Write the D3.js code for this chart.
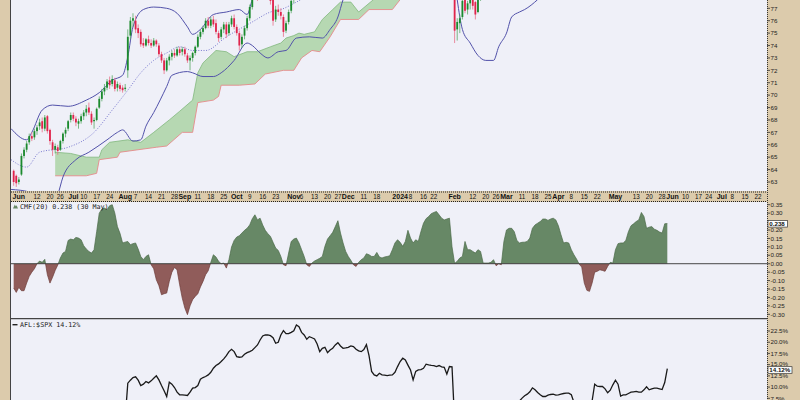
<!DOCTYPE html>
<html><head><meta charset="utf-8">
<script src="https://cdn.jsdelivr.net/npm/d3@7"></script>
<style>body{margin:0;background:#dccbac}svg{display:block}</style>
</head><body>
<svg id="c" width="800" height="400"></svg>
<script>
// ---------------- DATA ----------------
const holidays = ["2023-05-29","2023-06-19","2023-07-04","2023-09-04","2023-11-23","2023-12-25","2024-01-01","2024-01-15","2024-02-19","2024-03-29","2024-05-27","2024-06-19","2024-07-04"];
const dataStart = "2023-05-30"; // first session of the daily arrays below (last: 2024-05-30)

const opens = [
63.9,63.5,63.0,63.6,65.1,65.6,66.2,66.7,66.6,67.1, 67.5,67.9,67.3,68.3,67.2,66.2,65.6,65.8,65.6,66.3,
66.9,67.3,68.0,68.4,68.1,67.7,67.9,68.3,68.6,69.0, 68.5,67.9,68.0,69.0,69.7,70.3,70.6,71.2,70.9,71.2,
70.6,70.8,70.6,70.5,72.0,74.8,76.0,76.0,75.4,75.1, 74.2,74.0,74.5,74.2,74.0,74.4,74.0,73.3,72.8,72.0,
72.8,73.1,73.4,73.2,73.7,73.5,73.7,73.2,72.8,73.0, 73.4,73.9,74.7,75.1,75.4,76.0,75.6,76.1,75.8,75.0,
74.7,75.3,75.7,75.0,75.7,76.2,75.5,75.0,74.1,74.8, 75.4,76.2,77.1,78.0,78.3,78.0,78.7,78.9,79.0,78.6,
78.2,76.1,76.9,76.7,76.3,75.2,75.9,76.8,77.7,79.0, 80.1,80.5,80.3,80.6,80.8,80.4,80.9,81.2,81.6,81.2,
81.5,81.8,82.0,82.3,82.1,82.4,82.0,82.3,82.0,82.6, 82.9,82.7,82.1,82.3,82.0,81.9,82.2,82.5,83.1,83.3,
82.8,83.0,83.4,82.7,83.2,83.5,83.6,84.0,83.8,83.3, 83.0,82.6,82.9,83.1,83.4,83.0,82.4,82.2,82.5,82.1,
81.8,82.0,82.6,83.1,83.6,83.2,82.9,83.4,83.7,84.0, 80.2,75.3,75.8,76.3,77.7,76.9,77.4,77.8,77.5,76.7,
77.9,78.5,78.8,79.0,79.3,79.8,80.1,80.3,80.0,80.4, 80.6,80.5,80.9,81.4,81.8,82.2,82.5,82.9,83.1,83.4,
83.7,84.2,84.6,84.3,84.8,85.2,85.5,85.3,85.7,85.9, 86.1,85.6,84.9,84.5,84.8,84.2,84.6,84.0,83.5,83.1,
82.6,81.8,81.4,81.6,81.2,81.5,82.4,82.8,83.3,83.0, 83.6,84.2,84.8,85.5,85.9,86.2,86.6,87.1,87.5,87.3,
87.9,88.2,88.4,89.1,89.0,88.6,88.2,87.9,88.3,87.8, 87.5,87.9,88.4];
const highs = [
64.0,63.6,63.4,65.3,65.8,66.3,66.9,67.0,67.3,67.6, 68.1,68.2,68.4,68.4,67.3,66.4,66.1,66.0,66.4,67.0,
67.4,68.0,68.6,68.6,68.3,68.1,68.5,68.8,69.2,69.4, 68.7,68.2,69.0,69.9,70.5,70.9,71.3,71.5,71.6,71.4,
71.1,71.0,70.8,70.9,75.3,76.3,76.6,76.4,75.7,75.3, 74.6,74.6,74.8,74.5,74.6,74.5,74.2,73.5,73.0,73.0,
73.3,73.6,73.7,73.9,73.9,73.9,73.9,73.4,73.2,73.5, 74.0,74.9,75.3,75.6,76.2,76.3,76.3,76.4,76.1,75.2,
75.5,75.9,75.9,75.9,76.4,76.5,75.7,75.2,74.9,75.6, 76.4,77.3,78.2,78.6,78.6,78.9,79.2,79.3,79.2,78.8,
78.4,77.2,77.3,77.0,76.5,76.0,76.9,77.8,78.8,80.3, 80.8,80.7,80.9,81.1,81.0,81.1,81.3,81.9,81.8,81.7,
82.0,82.2,82.5,82.4,82.5,82.5,82.5,82.6,82.8,83.1, 83.0,82.8,82.5,82.4,82.2,82.4,82.7,83.3,83.6,83.4,
83.2,83.6,83.5,83.3,83.7,83.8,84.2,84.1,83.9,83.5, 83.1,83.1,83.3,83.6,83.5,83.1,82.5,82.7,82.6,82.2,
82.2,82.8,83.3,83.8,83.7,83.3,83.6,83.9,84.2,84.1, 80.5,76.2,76.5,77.9,78.0,77.6,77.9,78.1,77.6,77.9,
78.7,79.0,79.4,79.5,80.0,80.3,80.5,80.4,80.6,80.8, 80.9,81.1,81.6,82.0,82.4,82.7,83.1,83.3,83.6,83.9,
84.4,84.8,84.7,85.0,85.4,85.7,85.6,85.9,86.1,86.3, 86.2,85.7,85.0,85.1,84.9,84.8,84.7,84.1,83.6,83.2,
82.7,82.0,81.8,81.7,81.7,82.6,83.0,83.5,83.4,83.8, 84.4,84.3,85.8,86.1,86.4,86.8,87.3,87.7,87.6,88.1,
88.4,88.6,89.3,89.4,89.1,88.8,88.4,88.5,88.4,87.9, 88.1,88.6,89.8];
const lows = [
62.7,62.6,62.8,63.5,64.9,65.4,66.0,66.3,66.4,66.8, 67.2,67.0,67.1,66.9,66.0,65.1,65.3,65.2,65.5,66.1,
66.6,67.1,67.8,67.9,67.5,67.3,67.7,68.0,68.3,68.4, 67.6,67.3,67.9,68.9,69.5,70.0,70.4,70.5,70.7,70.3,
70.3,70.3,70.2,70.3,71.4,74.5,75.5,75.0,74.6,73.9, 73.8,73.9,74.0,73.8,73.9,73.9,73.1,72.6,71.7,71.9,
72.4,72.8,73.0,73.1,73.2,73.2,73.1,72.6,72.0,72.7, 73.2,73.8,74.5,74.9,75.3,75.4,75.4,75.5,74.9,74.3,
74.5,75.0,74.6,74.8,75.5,75.3,74.8,73.6,73.8,74.5, 75.2,76.0,76.9,77.7,77.6,77.8,78.3,78.5,78.2,77.3,
75.6,75.9,76.4,76.1,74.7,75.0,75.7,76.6,77.4,78.8, 79.8,80.0,80.1,80.4,80.2,80.3,80.6,81.0,81.0,81.0,
81.3,81.6,81.8,81.9,82.0,81.8,81.9,81.8,81.9,82.4, 82.5,81.9,81.9,81.8,81.6,81.7,82.0,82.3,82.9,82.6,
82.6,82.9,82.5,82.5,83.0,83.3,83.5,83.6,83.1,82.8, 82.4,82.5,82.7,82.9,82.8,82.2,81.9,82.0,81.9,81.6,
81.6,81.9,82.5,83.0,83.0,82.7,82.8,83.2,83.5,83.0, 74.2,74.4,75.0,76.1,76.6,76.5,76.9,76.9,76.1,76.6,
77.6,78.2,78.6,78.8,79.1,79.6,79.9,79.8,79.9,80.2, 80.3,80.4,80.7,81.2,81.6,82.0,82.3,82.7,82.9,83.2,
83.5,84.0,84.1,84.2,84.6,85.0,85.1,85.2,85.5,85.7, 85.4,84.7,84.3,84.4,84.0,84.1,83.8,83.3,82.9,82.4,
81.6,81.2,81.2,81.0,81.0,81.4,82.2,82.6,82.8,82.9, 83.5,83.7,84.5,85.3,85.7,86.0,86.4,86.9,87.1,87.2,
87.7,88.0,88.3,88.8,88.4,88.0,87.7,87.8,87.6,87.3, 87.4,87.8,88.3];
const closes = [
63.0,62.9,63.2,65.1,65.6,66.1,66.7,66.5,67.1,67.4, 67.8,67.3,68.2,67.1,66.3,65.6,65.9,65.5,66.3,66.9,
67.2,67.9,68.4,68.1,67.8,67.9,68.3,68.6,68.9,68.6, 67.8,68.0,68.9,69.7,70.3,70.6,71.1,70.8,71.3,70.5,
70.9,70.5,70.4,70.6,74.7,76.0,76.2,75.3,75.0,74.1, 74.0,74.5,74.2,74.0,74.4,74.1,73.3,72.8,72.0,72.8,
73.1,73.4,73.2,73.7,73.4,73.7,73.3,72.8,73.0,73.4, 73.9,74.7,75.1,75.4,76.0,75.6,76.1,75.7,75.1,74.6,
75.3,75.7,74.9,75.7,76.2,75.5,75.0,74.0,74.7,75.4, 76.2,77.1,78.0,78.3,77.9,78.7,78.9,79.0,78.4,77.6,
76.0,76.9,76.7,76.4,75.1,75.8,76.7,77.6,78.6,80.0, 80.5,80.3,80.6,80.8,80.4,80.9,81.0,81.6,81.2,81.5,
81.8,82.0,82.3,82.1,82.4,82.0,82.3,82.0,82.6,82.9, 82.7,82.1,82.3,82.0,81.9,82.2,82.5,83.1,83.3,82.8,
83.0,83.4,82.7,83.2,83.5,83.6,84.0,83.8,83.3,83.0, 82.6,82.9,83.1,83.4,83.0,82.4,82.2,82.5,82.1,81.8,
82.0,82.6,83.1,83.6,83.2,82.9,83.4,83.7,84.0,83.2, 75.2,75.9,76.2,77.6,76.8,77.4,77.7,77.2,76.5,77.8,
78.5,78.8,79.0,79.3,79.8,80.1,80.3,80.0,80.4,80.6, 80.5,80.9,81.4,81.8,82.2,82.5,82.9,83.1,83.4,83.7,
84.2,84.6,84.3,84.8,85.2,85.5,85.3,85.7,85.9,86.1, 85.6,84.9,84.5,84.8,84.2,84.6,84.0,83.5,83.1,82.6,
81.8,81.4,81.6,81.2,81.5,82.4,82.8,83.3,83.0,83.6, 84.2,83.9,85.5,85.9,86.2,86.6,87.1,87.5,87.3,87.9,
88.2,88.4,89.1,89.0,88.6,88.2,87.9,88.3,87.8,87.5, 87.9,88.4,89.6];

const cmf20 = [
-0.144,-0.17,-0.14,-0.16,-0.16,-0.115,-0.075,-0.05,-0.03,0.0, 0.016,0.008,0.026,-0.065,-0.115,-0.08,-0.04,-0.008,0.034,0.063,
0.073,0.138,0.146,0.142,0.156,0.152,0.142,0.107,0.087,0.073, 0.063,0.083,0.19,0.30,0.324,0.33,0.32,0.344,0.35,0.30,
0.22,0.18,0.123,0.128,0.132,0.113,0.119,0.123,0.087,0.043, 0.024,0.043,0.053,-0.006,-0.03,-0.095,-0.13,-0.184,-0.178,-0.174,
-0.105,-0.05,-0.022,-0.036,-0.125,-0.204,-0.263,-0.302,-0.25,-0.213, -0.194,-0.178,-0.138,-0.105,-0.065,-0.042,0.008,0.053,0.04,0.014,
0.0,0.004,-0.026,0.024,0.099,0.138,0.158,0.166,0.182,0.198, 0.21,0.23,0.267,0.29,0.26,0.27,0.23,0.198,0.178,0.162,
0.127,0.093,0.079,0.043,-0.006,-0.012,0.063,0.132,0.146,0.152, 0.123,0.083,0.043,-0.006,-0.016,0.004,0.016,0.024,0.032,0.043,
0.103,0.146,0.166,0.186,0.22,0.255,0.182,0.123,0.073,0.043, 0.02,-0.006,-0.016,0.008,0.024,0.034,0.059,0.053,0.043,0.043,
0.067,0.04,0.034,0.04,0.043,0.047,0.083,0.123,0.142,0.127, 0.103,0.132,0.198,0.152,0.123,0.142,0.132,0.19,0.24,0.267,
0.28,0.297,0.304,0.31,0.29,0.27,0.26,0.265,0.27,0.10, 0.002,0.014,0.034,0.043,0.132,0.083,0.083,0.073,0.063,0.083,
0.073,0.004,0.004,0.004,0.008,0.024,-0.012,0.0,-0.006,0.132, 0.2,0.21,0.21,0.19,0.138,0.123,0.127,0.128,0.132,0.152,
0.21,0.23,0.24,0.25,0.265,0.265,0.257,0.265,0.27,0.26, 0.225,0.172,0.123,0.127,0.123,0.083,0.053,0.028,-0.002,-0.02,
-0.115,-0.158,-0.164,-0.115,-0.05,-0.045,-0.036,-0.04,-0.045,-0.016, 0.008,0.004,0.083,0.119,0.123,0.123,0.138,0.19,0.225,0.237,
0.25,0.26,0.304,0.28,0.21,0.217,0.22,0.205,0.198,0.188, 0.182,0.237,0.238];

const relPct = [ // AFL:$SPX, % change
0,0.5,0.0,1.5,2.5,3.0,4.3,3.4,4.2,3.7, 3.6,2.7,2.9,1.6,0.9,0.3,0.4,0.6,2.3,2.0,
2.5,3.1,2.6,2.1,1.8,2.7,3.7,3.9,3.6,2.4, 0.4,0.8,1.7,2.2,2.8,3.9,4.6,3.8,4.2,3.1,
4.3,2.7,2.4,3.0,10.87,11.54,12.13,12.28,11.54,10.35, 10.65,11.24,10.94,11.39,11.98,12.5,11.6,10.35,9.17,7.9,
11.1,10.65,9.9,8.87,8.28,8.28,8.2,8.13,8.87,9.76, 9.9,10.35,11.76,12.13,12.35,12.72,13.3,14.2,14.8,15.17,
15.69,16.28,17.0,17.9,18.43,17.9,16.8,16.65,16.72,17.3, 17.68,17.9,18.2,18.8,19.39,20.5,21.39,21.61,21.61,21.46,
21.0,19.76,19.98,21.61,22.57,21.9,21.9,22.2,22.57,23.83, 23.46,22.2,21.61,20.65,21.24,21.0,20.72,19.61,17.9,18.65,
18.87,17.68,18.28,18.65,19.39,19.9,19.17,18.65,18.72,18.87, 19.17,19.02,18.43,18.06,17.9,18.35,19.46,17.0,13.5,12.72,
12.5,13.09,12.72,12.65,12.57,12.65,12.72,13.3,14.57,15.69, 16.43,16.06,14.9,13.8,11.6,13.5,13.83,13.9,14.2,15.1,
14.94,14.85,14.8,14.57,14.8,14.5,14.4,12.9,14.57,14.5, 2.3,2.2,2.9,4.6,2.6,3.4,3.2,2.6,3.1,3.9,
4.2,5.1,6.0,6.3,4.7,5.1,5.8,5.2,5.9,5.6, 4.6,5.3,6.6,6.8,6.4,6.9,7.54,8.06,8.43,8.94,
9.83,9.39,8.8,8.28,7.9,7.9,8.2,8.35,8.43,8.2, 8.28,8.43,8.57,8.65,8.65,8.28,6.6,6.1,5.4,5.0,
4.6,5.2,6.0,6.9,10.65,10.2,10.13,10.13,9.61,8.72, 9.31,10.5,11.54,10.65,7.98,8.28,8.28,8.57,8.87,8.94,
9.02,8.87,8.87,9.39,10.06,9.39,9.61,9.76,9.76,9.61, 9.46,11.0,14.12];

// Bollinger Bands (20,2) read at selected sessions
const bbUpperDates = ["2023-05-26","2023-06-06","2023-06-08","2023-06-14","2023-06-21","2023-06-29","2023-07-11","2023-07-18","2023-07-25","2023-07-31","2023-08-02","2023-08-04","2023-08-10","2023-08-16","2023-08-23","2023-08-29","2023-09-05","2023-09-07","2023-09-12","2023-09-19","2023-09-26","2023-10-03","2023-10-06","2023-10-10","2023-10-17","2023-10-31","2023-11-14","2023-12-06","2024-01-05","2024-01-31","2024-02-12","2024-02-29","2024-03-19","2024-04-10","2024-05-01","2024-05-15","2024-05-30"];
const bbUpper = [67.3,66.4,67.0,68.8,69.2,69.1,69.6,70.2,71.2,71.6,73.1,75.5,76.9,77.1,77.0,76.6,75.5,74.9,75.3,76.5,76.7,76.9,76.5,77.7,79.6,79.8,82.3,84.2,84.6,84.9,88.0,85.5,86.8,87.4,88.0,90.3,91.0];
const bbMidDates = ["2023-05-26","2023-06-06","2023-06-13","2023-06-29","2023-07-14","2023-07-25","2023-08-02","2023-08-09","2023-08-16","2023-08-23","2023-08-30","2023-09-07","2023-09-14","2023-09-26","2023-10-10","2023-10-19","2023-10-25","2023-11-02","2023-11-14","2023-11-29","2023-12-20","2024-01-12","2024-01-31","2024-02-12","2024-02-27","2024-03-12","2024-04-03","2024-04-24","2024-05-15","2024-05-30"];
const bbMid = [64.8,64.2,65.4,65.8,67.0,68.8,70.4,71.8,72.8,73.4,73.9,73.6,73.6,74.7,75.9,76.7,76.9,77.5,78.5,80.3,82.3,82.8,83.2,80.6,79.4,82.0,84.6,83.0,85.6,88.0];
const bbLowerDates = ["2023-05-26","2023-06-07","2023-06-13","2023-06-20","2023-06-23","2023-06-27","2023-07-05","2023-07-12","2023-07-21","2023-07-27","2023-07-31","2023-08-04","2023-08-09","2023-08-11","2023-08-16","2023-08-23","2023-08-25","2023-09-05","2023-09-07","2023-09-13","2023-09-19","2023-09-22","2023-09-29","2023-10-06","2023-10-10","2023-10-13","2023-10-18","2023-10-24","2023-10-27","2023-11-02","2023-11-09","2023-11-16","2023-11-21","2023-11-27","2023-11-29","2023-12-06","2023-12-20","2024-01-05","2024-01-22","2024-01-31","2024-02-02","2024-02-06","2024-02-09","2024-02-14","2024-02-20","2024-02-23","2024-02-27","2024-03-01","2024-03-05","2024-03-08","2024-03-12","2024-03-19","2024-04-03","2024-04-17","2024-05-01","2024-05-15","2024-05-30"];
const bbLower = [62.4,62.2,61.6,61.3,62.0,63.4,64.8,65.4,66.4,67.0,67.2,66.3,66.4,67.5,68.6,70.7,71.6,71.9,71.8,71.5,71.5,71.8,72.8,74.2,74.0,73.4,73.0,73.5,73.6,74.6,74.7,74.6,75.3,76.3,77.7,79.4,80.6,81.0,81.4,81.2,77.7,75.3,74.2,73.2,72.8,72.8,73.9,75.0,76.3,76.7,76.9,77.7,80.2,79.6,79.2,81.2,84.4];

// Ichimoku cloud (displaced spans) read at selected sessions
const spanADates = ["2023-06-22","2023-06-30","2023-07-11","2023-07-18","2023-07-19","2023-07-24","2023-08-02","2023-08-09","2023-08-16","2023-08-24","2023-08-30","2023-09-07","2023-09-11","2023-09-13","2023-09-20","2023-09-26","2023-09-29","2023-10-06","2023-10-12","2023-10-19","2023-10-25","2023-10-27","2023-11-01","2023-11-03","2023-11-07","2023-11-13","2023-11-16","2023-11-22","2023-11-28","2023-12-04","2023-12-07","2023-12-13","2023-12-19","2024-01-05","2024-01-29","2024-02-20","2024-03-12","2024-04-03","2024-05-01","2024-05-30","2024-07-09"];
const spanA = [65.4,65.3,65.0,65.0,65.6,66.2,66.4,66.2,67.0,68.0,68.7,69.6,71.8,72.6,73.6,73.5,73.1,73.5,73.5,73.9,74.2,74.6,74.8,75.0,74.9,75.1,76.1,76.9,77.5,77.5,76.7,77.4,78.1,80.0,81.8,82.6,81.5,80.2,83.0,85.0,86.0];
const spanBDates = ["2023-06-22","2023-07-11","2023-07-17","2023-07-18","2023-07-27","2023-07-28","2023-08-17","2023-08-23","2023-08-31","2023-09-07","2023-09-11","2023-09-19","2023-09-21","2023-09-22","2023-10-03","2023-10-11","2023-10-17","2023-10-26","2023-11-01","2023-11-06","2023-11-10","2023-11-15","2023-11-21","2023-11-28","2023-12-07","2023-12-13","2023-12-27","2024-01-02","2024-01-12","2024-02-12","2024-03-12","2024-04-10","2024-05-08","2024-07-09"];
const spanB = [63.5,63.5,63.7,64.8,65.0,65.4,65.8,65.9,67.0,67.0,69.4,69.6,69.9,70.8,70.8,70.9,71.7,72.0,72.0,73.0,73.6,73.5,74.7,76.1,76.1,76.9,76.9,77.7,79.0,80.0,80.5,79.5,81.5,82.5];

// Axis ticks
const priceTicks = [63,64,65,66,67,68,69,70,71,72,73,74,75,76,77];
const cmfTicks = [-0.30,-0.25,-0.20,-0.15,-0.10,-0.05,0.00,0.05,0.10,0.15,0.20,0.30,0.35]; // 0.25 sits under the value badge
const relTicks = [7.5,10.0,12.5,15.0,17.5,20.0,22.5];
const dateTickDates = ["2023-06-01","2023-06-12","2023-06-20","2023-06-26","2023-07-03","2023-07-10","2023-07-17","2023-07-24","2023-08-01","2023-08-07","2023-08-14","2023-08-21","2023-08-28","2023-09-01","2023-09-11","2023-09-18","2023-09-25","2023-10-02","2023-10-09","2023-10-16","2023-10-23","2023-11-01","2023-11-06","2023-11-13","2023-11-20","2023-11-27","2023-12-01","2023-12-11","2023-12-18","2024-01-02","2024-01-08","2024-01-16","2024-01-22","2024-02-01","2024-02-12","2024-02-20","2024-02-26","2024-03-01","2024-03-11","2024-03-18","2024-03-25","2024-04-01","2024-04-08","2024-04-15","2024-04-22","2024-05-01","2024-05-13","2024-05-20","2024-05-28","2024-06-03","2024-06-10","2024-06-17","2024-06-24","2024-07-01","2024-07-08","2024-07-15","2024-07-22"];
const dateTickLabels = ["Jun","12","20","26","Jul","10","17","24","Aug","7","14","21","28","Sep","11","18","25","Oct","9","16","23","Nov","6","13","20","27","Dec","11","18","2024","8","16","22","Feb","12","20","26","Mar","11","18","25","Apr","8","15","22","May","13","20","28","Jun","10","17","24","Jul","8","15","22"];
const cmfTitle = "CMF(20) 0.238 (30 May)";
const relTitle = "AFL:$SPX 14.12%";

// ---------------- CHART ----------------
const sessions = [];
for (let t = Date.UTC(2023,4,26); t <= Date.UTC(2024,6,31); t += 864e5) {
  const d = new Date(t), wd = d.getUTCDay(), s = d.toISOString().slice(0,10);
  if (wd === 0 || wd === 6 || holidays.includes(s)) continue;
  sessions.push(s);
}
const sno = new Map(sessions.map((s,i)=>[s,i]));
const s0 = sno.get(dataStart);

const L = 11, R = 767;
const P = {top:0, bot:191}, C = {top:202, bot:318.5}, Q = {top:319, bot:400};
const x = d3.scaleLinear().domain([sno.get("2023-06-01"), sno.get("2024-07-22")]).range([18.85, 758.1]);
const yP = d3.scaleLinear().domain([63,77]).range([182,8.3]);
const yC = d3.scaleLinear().domain([-0.30,0.35]).range([314.3,204.7]);
const yQ = d3.scaleLinear().domain([7.5,22.5]).range([398.3,331]);

const FONT = "'Liberation Sans', Arial, sans-serif";
const svg = d3.select("#c");
svg.append("rect").attr("width",800).attr("height",400).attr("fill","#dccbac");
const defs = svg.append("defs");
function clip(id,x0,y0,x1,y1){defs.append("clipPath").attr("id",id).append("rect").attr("x",x0).attr("y",y0).attr("width",x1-x0).attr("height",y1-y0);}
clip("cp",L,P.top,R,P.bot); clip("cc",L,C.top,R,C.bot); clip("cq",L,Q.top,R,Q.bot);
clip("cpos",L,C.top,R,yC(0)); clip("cneg",L,yC(0),R,C.bot);

[[P.top,P.bot],[C.top,C.bot],[Q.top,Q.bot]].forEach(([a,b])=>
  svg.append("rect").attr("x",L).attr("y",a).attr("width",R-L).attr("height",b-a).attr("fill","#eff0f8"));

// ---- price panel
const gP = svg.append("g").attr("clip-path","url(#cp)");
const pa = spanADates.map((d,i)=>[x(sno.get(d)), yP(spanA[i])]);
const pb = spanBDates.map((d,i)=>[x(sno.get(d)), yP(spanB[i])]);
gP.append("path").attr("d", d3.line()(pa.concat(pb.slice().reverse()))+"Z")
  .attr("fill","#b6d8b2").attr("stroke","none");
gP.append("path").attr("d", d3.line()(pa)).attr("fill","none").attr("stroke","#82b77e").attr("stroke-width",0.8);
gP.append("path").attr("d", d3.line()(pb)).attr("fill","none").attr("stroke","#e58a8a").attr("stroke-width",0.9);

const bbLine = (dates,vals)=>d3.line().curve(d3.curveMonotoneX)(dates.map((d,i)=>[x(sno.get(d)), yP(vals[i])]));
gP.append("path").attr("d",bbLine(bbUpperDates,bbUpper)).attr("fill","none").attr("stroke","#5252aa").attr("stroke-width",1);
gP.append("path").attr("d",bbLine(bbLowerDates,bbLower)).attr("fill","none").attr("stroke","#5252aa").attr("stroke-width",1);
gP.append("path").attr("d",bbLine(bbMidDates,bbMid)).attr("fill","none").attr("stroke","#6a6ac8").attr("stroke-width",0.9).attr("stroke-dasharray","1,1.6");

closes.forEach((c,i)=>{
  const o = opens[i], h = highs[i], l = lows[i], cx = x(s0+i);
  const up = c >= o, col = up ? "#1b8a2e" : "#e0244c";
  gP.append("line").attr("x1",cx).attr("x2",cx).attr("y1",yP(h)).attr("y2",yP(l)).attr("stroke",up?"#5aa866":"#e87088").attr("stroke-width",0.8);
  const yt = yP(Math.max(o,c)), yb = yP(Math.min(o,c));
  gP.append("rect").attr("x",cx-0.9).attr("width",1.8).attr("y",yt).attr("height",Math.max(0.8,yb-yt)).attr("fill",col);
});

// ---- CMF panel
const gC = svg.append("g").attr("clip-path","url(#cc)");
const area = d3.area().x((d,i)=>x(s0+i)).y0(yC(0)).y1(d=>yC(d));
const line = d3.line().x((d,i)=>x(s0+i)).y(d=>yC(d));
gC.append("path").attr("d",area(cmf20)).attr("fill","#678866").attr("clip-path","url(#cpos)");
gC.append("path").attr("d",area(cmf20)).attr("fill","#905c5a").attr("clip-path","url(#cneg)");
gC.append("path").attr("d",line(cmf20)).attr("fill","none").attr("stroke","#4a6a48").attr("stroke-width",0.7).attr("clip-path","url(#cpos)");
gC.append("path").attr("d",line(cmf20)).attr("fill","none").attr("stroke","#6e3c3a").attr("stroke-width",0.7).attr("clip-path","url(#cneg)");
svg.append("line").attr("x1",L).attr("x2",R).attr("y1",yC(0)).attr("y2",yC(0)).attr("stroke","#333").attr("stroke-width",0.9);

// ---- relative panel
const gQ = svg.append("g").attr("clip-path","url(#cq)");
gQ.append("path").attr("d",d3.line().x((d,i)=>x(s0+i)).y(d=>yQ(d))(relPct)).attr("fill","none").attr("stroke","#1a1a1a").attr("stroke-width",1.3);

// ---- date strip
svg.append("rect").attr("x",L).attr("y",192).attr("width",R-L).attr("height",10).attr("fill","#dccbac");
[192,201.5].forEach(y=>svg.append("line").attr("x1",L).attr("x2",R).attr("y1",y).attr("y2",y).attr("stroke","#222").attr("stroke-width",1).attr("stroke-dasharray","1,1"));
const bold = new Set(["Jun","Jul","Aug","Sep","Oct","Nov","Dec","2024","Feb","Mar","Apr","May"]);
dateTickDates.forEach((d,i)=>{
  const lab = dateTickLabels[i], b = bold.has(lab);
  svg.append("text").attr("x",x(sno.get(d))).attr("y",199.3).attr("text-anchor","middle")
    .attr("font-family",FONT).attr("font-size",b?7:6.3).attr("font-weight",b?"bold":"normal").attr("fill","#111").text(lab);
});

// ---- borders
svg.append("line").attr("x1",10.5).attr("x2",10.5).attr("y1",0).attr("y2",400).attr("stroke","#444").attr("stroke-width",1);
svg.append("line").attr("x1",R+0.5).attr("x2",R+0.5).attr("y1",0).attr("y2",400).attr("stroke","#333").attr("stroke-width",1).attr("stroke-dasharray","1,1");
svg.append("line").attr("x1",L).attr("x2",R).attr("y1",318.7).attr("y2",318.7).attr("stroke","#444").attr("stroke-width",1.2);

// ---- right axes
const badgeCMF = yC(cmf20[cmf20.length-1]);
const badgeRel = yQ(relPct[relPct.length-1]) + 1.2;
function axisLabels(ticks, scale, fmt, y0, y1, avoid){
  ticks.forEach(t=>{
    const y = scale(t); if (y < y0 || y > y1) return;
    let dy = 2.2;
    if (avoid !== undefined && y < avoid && avoid - y < 6) dy = 2.2 - (6 - (avoid - y)); // lift label just above the badge
    svg.append("line").attr("x1",R).attr("x2",R+3).attr("y1",y).attr("y2",y).attr("stroke","#333").attr("stroke-width",0.8);
    svg.append("text").attr("x",R+3.5).attr("y",y+dy).attr("font-family",FONT).attr("font-size",6.2).attr("fill","#222").text(fmt(t));
  });
}
axisLabels(priceTicks, yP, d=>String(d), 0, 191);
axisLabels(cmfTicks, yC, d=>d3.format(".2f")(d).replace("−","-"), 202, 318);
axisLabels(relTicks, yQ, d=>d3.format(".1f")(d)+"%", 319, 400, badgeRel);

function badge(y, txt, w){
  svg.append("rect").attr("x",R+1).attr("y",y-3.1).attr("width",w).attr("height",6.6).attr("fill","#fff").attr("stroke","#333").attr("stroke-width",0.7);
  svg.append("text").attr("x",R+2.3).attr("y",y+2.1).attr("font-family",FONT).attr("font-size",6.2).attr("font-weight","bold").attr("fill","#111").text(txt);
}
badge(badgeCMF, "0.238", 19.5);
badge(badgeRel, "14.12%", 24);

// ---- panel titles
const MONO = "'DejaVu Sans Mono', monospace";
svg.append("path").attr("d","M13,208.5 L14.8,204.5 L15.8,206.3 L16.6,205.2 L18,208.5Z").attr("fill","#678866");
svg.append("text").attr("x",20).attr("y",208.5).attr("font-family",MONO).attr("font-size",6.7).attr("fill","#222").text(cmfTitle);
svg.append("rect").attr("x",12.5).attr("y",324).attr("width",5).attr("height",1.4).attr("fill","#222");
svg.append("text").attr("x",20).attr("y",327).attr("font-family",MONO).attr("font-size",6.7).attr("fill","#222").text(relTitle);
</script>
</body></html>
